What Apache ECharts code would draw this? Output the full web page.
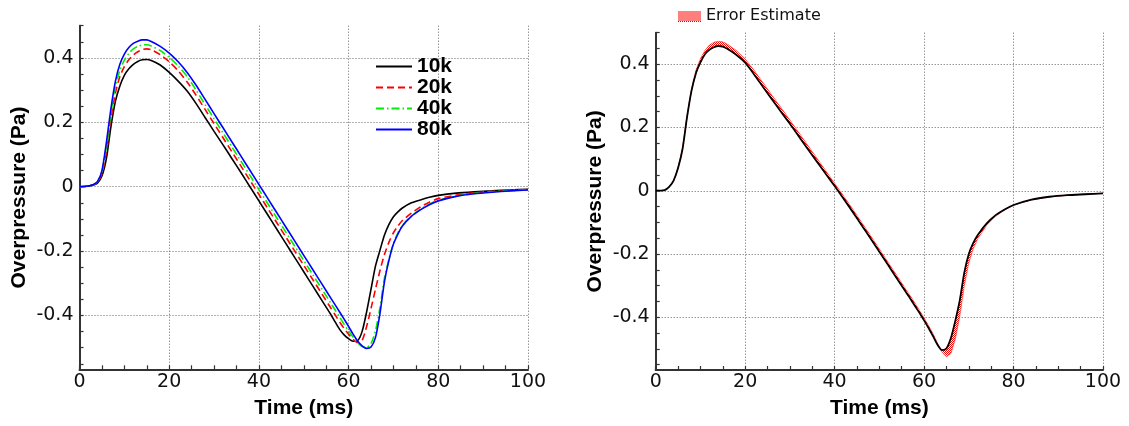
<!DOCTYPE html>
<html><head><meta charset="utf-8">
<script src="https://cdn.jsdelivr.net/npm/echarts@6/dist/echarts.min.js"></script>
<style>html,body{margin:0;padding:0;background:#fff}#c{width:1129px;height:426px}</style>
</head><body><div id="c"></div>
<script>
// ---- data (time in ms, overpressure in Pa) ----
const timeMs = [0,1,2,3,4,5,6,7,8,9,10,11,12,13,14,15,16,18,20,22,24,26,28,30,32,34,36,38,40,42,44,46,48,50,52,54,56,57,58,59,60,61,62,63,64,65,66,67,68,69,70,71,72,74,76,78,80,84,88,92,96,100];

const res10k = [0,0.0005,0.002,0.005,0.011,0.033,0.088,0.186,0.265,0.313,0.346,0.366,0.38,0.389,0.394,0.395,0.392,0.378,0.355,0.328,0.297,0.258,0.215,0.172,0.13,0.087,0.044,0.0,-0.044,-0.088,-0.132,-0.176,-0.22,-0.264,-0.308,-0.352,-0.396,-0.42,-0.443,-0.46,-0.472,-0.48,-0.478,-0.45,-0.39,-0.318,-0.246,-0.197,-0.15,-0.117,-0.093,-0.078,-0.066,-0.05,-0.041,-0.033,-0.027,-0.02,-0.016,-0.013,-0.01,-0.008];

const res20k = [0,0.0005,0.002,0.005,0.013,0.04,0.11,0.21,0.29,0.342,0.373,0.394,0.409,0.419,0.426,0.428,0.425,0.41,0.388,0.36,0.325,0.284,0.24,0.196,0.152,0.108,0.064,0.02,-0.024,-0.068,-0.112,-0.156,-0.2,-0.244,-0.288,-0.332,-0.376,-0.398,-0.42,-0.44,-0.458,-0.474,-0.484,-0.478,-0.435,-0.378,-0.318,-0.26,-0.21,-0.172,-0.143,-0.122,-0.105,-0.082,-0.063,-0.048,-0.037,-0.026,-0.019,-0.015,-0.012,-0.009];

const res40k = [0,0.0005,0.002,0.006,0.015,0.045,0.125,0.228,0.31,0.362,0.393,0.414,0.428,0.436,0.44,0.441,0.437,0.423,0.402,0.375,0.342,0.3,0.255,0.211,0.167,0.123,0.079,0.035,-0.009,-0.053,-0.097,-0.141,-0.185,-0.229,-0.273,-0.317,-0.361,-0.383,-0.405,-0.427,-0.448,-0.467,-0.484,-0.496,-0.499,-0.487,-0.447,-0.375,-0.283,-0.225,-0.176,-0.143,-0.12,-0.091,-0.07,-0.054,-0.042,-0.029,-0.021,-0.016,-0.012,-0.0095];

const res80k = [0,0.0005,0.002,0.006,0.016,0.05,0.138,0.242,0.327,0.38,0.412,0.432,0.445,0.452,0.456,0.456,0.451,0.436,0.415,0.388,0.355,0.315,0.271,0.227,0.183,0.139,0.095,0.051,0.007,-0.037,-0.081,-0.125,-0.169,-0.213,-0.257,-0.301,-0.345,-0.367,-0.389,-0.411,-0.434,-0.458,-0.479,-0.494,-0.502,-0.498,-0.468,-0.393,-0.295,-0.228,-0.178,-0.147,-0.122,-0.092,-0.072,-0.056,-0.044,-0.03,-0.022,-0.017,-0.013,-0.01];

const fineSolution = [0,0.0005,0.002,0.012,0.032,0.072,0.132,0.232,0.316,0.372,0.406,0.432,0.446,0.454,0.458,0.456,0.449,0.43,0.405,0.368,0.328,0.289,0.25,0.212,0.172,0.132,0.093,0.054,0.015,-0.025,-0.066,-0.108,-0.15,-0.193,-0.236,-0.279,-0.322,-0.343,-0.365,-0.387,-0.41,-0.434,-0.46,-0.487,-0.504,-0.499,-0.466,-0.41,-0.345,-0.258,-0.2,-0.165,-0.14,-0.103,-0.077,-0.059,-0.045,-0.028,-0.019,-0.014,-0.011,-0.008];

const errorBound = [0,0.0005,0.002,0.012,0.032,0.074,0.138,0.238,0.322,0.382,0.418,0.444,0.461,0.47,0.473,0.471,0.464,0.444,0.417,0.381,0.342,0.302,0.263,0.224,0.184,0.144,0.104,0.064,0.024,-0.016,-0.057,-0.099,-0.141,-0.184,-0.227,-0.27,-0.313,-0.334,-0.356,-0.379,-0.402,-0.426,-0.452,-0.482,-0.51,-0.525,-0.515,-0.468,-0.395,-0.3,-0.228,-0.183,-0.152,-0.109,-0.081,-0.061,-0.046,-0.029,-0.02,-0.014,-0.011,-0.008];

const legendNames = ['10k','20k','40k','80k'];
const bandName = 'Error Estimate';

// ---- styling ----
const FT = 'DejaVu Sans';
const FB = 'Liberation Sans';
const AX = '#333';
const GRIDLINE = {color:'#666', width:1, type:[1,2]};

function pairs(t, v){ return t.map((x,i)=>[x, v[i]]); }

function checker(w, h){
  const c = document.createElement('canvas');
  c.width = w; c.height = h;
  const g = c.getContext('2d');
  g.fillStyle = '#ffffff'; g.fillRect(0,0,w,h);
  g.fillStyle = '#ff0000';
  for (let y=0;y<h;y++) for (let x=0;x<w;x++) if ((x+y)%2===0) g.fillRect(x,y,1,1);
  return c;
}
const patternFill = {image: checker(2,2), repeat: 'repeat'};
const swatchIcon = 'image://' + checker(23,11).toDataURL();

function mainX(gi){
  return {
    type:'value', gridIndex:gi, min:0, max:100, interval:20,
    name:'Time (ms)', nameLocation:'middle', nameGap:28,
    nameTextStyle:{fontFamily:FB, fontWeight:'bold', fontSize:21, color:'#000'},
    axisLine:{show:true, onZero:false, lineStyle:{color:AX, width:2}},
    axisTick:{show:true, inside:true, length:4, lineStyle:{color:AX, width:1.2}},
    minorTick:{show:true, splitNumber:4, length:4, lineStyle:{color:AX, width:1.2}},
    axisLabel:{fontFamily:FT, fontSize:19, color:'#111', margin:3},
    splitLine:{show:true, lineStyle:GRIDLINE}
  };
}
function mainY(gi){
  return {
    type:'value', gridIndex:gi, min:-0.567, max:0.5,
    name:'Overpressure (Pa)', nameLocation:'middle', nameGap:50, nameRotate:90,
    nameTextStyle:{fontFamily:FB, fontWeight:'bold', fontSize:21, color:'#000'},
    axisLine:{show:true, onZero:false, lineStyle:{color:AX, width:2}},
    axisTick:{show:false},
    axisLabel:{fontFamily:FT, fontSize:19, color:'#111', margin:6, showMinLabel:false, showMaxLabel:false,
      formatter:v=>String(Math.round(v*10)/10)},
    splitLine:{show:true, showMinLine:false, showMaxLine:false, lineStyle:GRIDLINE}
  };
}
function tickX(gi){ return {type:'value', gridIndex:gi, min:0, max:100, show:false}; }
function tickY(gi){
  return {
    type:'value', gridIndex:gi, min:-0.55, max:0.5, interval:0.05,
    axisLine:{show:false}, axisLabel:{show:false}, splitLine:{show:false},
    axisTick:{show:true, inside:true, length:4, lineStyle:{color:AX, width:1.2}}
  };
}

const lineCfg = [
  {name:legendNames[0], data:res10k, color:'#000000', type:'solid'},
  {name:legendNames[1], data:res20k, color:'#ff0000', type:[7,4]},
  {name:legendNames[2], data:res40k, color:'#00ee00', type:[8,3,1.5,3]},
  {name:legendNames[3], data:res80k, color:'#0000ff', type:'solid'}
];

const series = lineCfg.map(c=>({
  type:'line', name:c.name, xAxisIndex:0, yAxisIndex:0,
  data:pairs(timeMs, c.data), symbol:'none', smooth:0.25,
  lineStyle:{color:c.color, width:1.6, type:c.type}, itemStyle:{color:c.color},
  silent:true, animation:false
}));

series.push({
  type:'custom', name:bandName, xAxisIndex:2, yAxisIndex:2,
  data:[[50,0]], itemStyle:{color:'#ff0000'}, animation:false, silent:true, z:1,
  renderItem:function(params, api){
    const pts = [];
    for (let i=0;i<timeMs.length;i++) pts.push(api.coord([timeMs[i], fineSolution[i]]));
    for (let i=timeMs.length-1;i>=0;i--) pts.push(api.coord([timeMs[i], errorBound[i]]));
    return {type:'polygon', shape:{points:pts, smooth:0}, style:{fill:patternFill, stroke:'#ff3333', lineWidth:0.6}};
  }
});
series.push({
  type:'line', name:'fine', xAxisIndex:2, yAxisIndex:2, z:3,
  data:pairs(timeMs, fineSolution), symbol:'none', smooth:0.25,
  lineStyle:{color:'#000', width:1.8}, itemStyle:{color:'#000'}, silent:true, animation:false
});

const option = {
  backgroundColor:'#ffffff',
  animation:false,
  grid:[
    {left:79.5, right:601, top:25.7, bottom:56.7, outerBoundsMode:'none'},
    {left:79.5, right:601, top:25.7, bottom:62.2, outerBoundsMode:'none'},
    {left:655.7, right:26, top:32.7, bottom:56, outerBoundsMode:'none'},
    {left:655.7, right:26, top:32.7, bottom:61.4, outerBoundsMode:'none'}
  ],
  xAxis:[mainX(0), tickX(1), mainX(2), tickX(3)],
  yAxis:[mainY(0), tickY(1), mainY(2), tickY(3)],
  legend:[
    {data:legendNames, orient:'vertical', left:370, top:51, itemWidth:36, itemHeight:12, itemGap:0,
      selectedMode:false, itemStyle:{opacity:0},
      textStyle:{fontFamily:FB, fontWeight:'bold', fontSize:21, color:'#000', lineHeight:20.5, padding:[0,0,0,0]}},
    {data:[{name:bandName, icon:swatchIcon}], left:673, top:3, itemWidth:23, itemHeight:11, selectedMode:false,
      textStyle:{fontFamily:FT, fontSize:16, color:'#111'}}
  ],
  series:series
};

const chart = echarts.init(document.getElementById('c'), null, {renderer:'canvas'});
chart.setOption(option);
</script>
</body></html>
